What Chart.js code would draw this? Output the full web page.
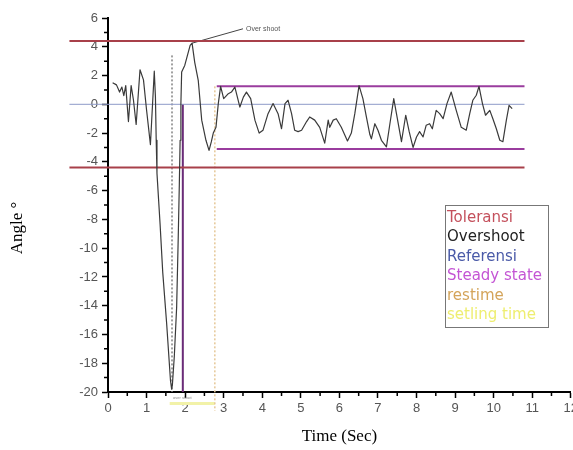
<!DOCTYPE html>
<html>
<head>
<meta charset="utf-8">
<script src="https://cdn.jsdelivr.net/npm/chart.js@4/dist/chart.umd.min.js"></script>
<style>
  html, body { margin: 0; padding: 0; overflow: hidden; background: #fff; }
  #wrap { width: 581px; height: 450px; }
</style>
</head>
<body>
<div id="wrap"><canvas id="myChart"></canvas></div>
<script>
// response signal (time in sec, angle in degrees)
const timeSec = [0.12, 0.22, 0.3, 0.36, 0.41, 0.46, 0.53, 0.6, 0.66, 0.73, 0.83, 0.92, 1.0, 1.1, 1.2,
  1.23, 1.25, 1.27, 1.35, 1.42, 1.52, 1.62, 1.65, 1.67, 1.72, 1.78, 1.82, 1.85, 1.87, 1.89, 1.91,
  1.99, 2.06, 2.13, 2.18, 2.25, 2.34, 2.43, 2.54, 2.62, 2.68, 2.73, 2.8, 2.86, 2.92, 3.0, 3.12,
  3.2, 3.29, 3.42, 3.51, 3.59, 3.7, 3.81, 3.92, 4.02, 4.15, 4.28, 4.41, 4.5, 4.59, 4.67, 4.76,
  4.84, 4.93, 5.02, 5.15, 5.23, 5.36, 5.49, 5.62, 5.71, 5.75, 5.84, 5.92, 6.05, 6.21, 6.31, 6.4,
  6.51, 6.61, 6.7, 6.79, 6.83, 6.92, 7.0, 7.09, 7.22, 7.31, 7.41, 7.48, 7.61, 7.72, 7.81, 7.91,
  8.0, 8.08, 8.17, 8.25, 8.34, 8.41, 8.51, 8.6, 8.69, 8.79, 8.9, 9.03, 9.16, 9.29, 9.38, 9.46,
  9.55, 9.62, 9.71, 9.79, 9.9, 9.98, 10.07, 10.16, 10.24, 10.33, 10.4, 10.48]
const angleDeg = [1.5, 1.35, 0.85, 1.2, 0.6, 1.3, -1.2, 1.3, 0.3, -1.4, 2.4, 1.7, -0.4, -2.8, 2.3,
  0.5, -2.5, -4.8, -8.3, -11.7, -15.2, -19.2, -19.8, -19.5, -17.5, -14.1, -9.4, -5.5, -2.5, 0, 2.25,
  2.7, 3.4, 4.1, 4.25, 2.9, 1.67, -1.1, -2.5, -3.2, -2.6, -2.0, -1.6, 0.05, 1.25, 0.4, 0.74,
  0.85, 1.2, -0.19, 0.5, 0.85, 0.4, -1.1, -2.0, -1.8, -0.65, 0.05, -0.65, -1.7, 0.05, 0.28, -0.65,
  -1.8, -1.9, -1.8, -1.2, -0.88, -1.1, -1.6, -2.7, -1.1, -1.6, -1.1, -1.0, -1.6, -2.55, -2.0, -0.65,
  1.3, 0.4, -0.88, -2.1, -2.4, -1.35, -1.8, -2.5, -2.96, -1.35, 0.4, -0.65, -2.6, -0.76, -1.9, -3.0,
  -2.27, -1.9, -2.27, -1.46, -1.35, -1.7, -0.42, -0.65, -1.0, 0.05, 0.85, -0.42, -1.6, -1.8, -0.65, 0.28,
  0.63, 1.25, 0.05, -0.76, -0.42, -1.0, -1.7, -2.5, -2.6, -1.1, -0.07, -0.3]

// reference levels
const toleransi = [4.4, -4.4]
const steadyState = [1.25, -3.1]
const referensi = 0
const lineSpan = [-1, 10.8]        // time range of the horizontal lines
const steadyStart = 2.82
const overshootPeak = [2.18, 4.25]
const overshootLabel = [3.5, 5.25]
const dotTime = 1.66
const peakTime = 1.94
const riseTime = 2.77
const settleSpan = [1.6, 2.77]

const legendItems = ['Toleransi', 'Overshoot', 'Referensi', 'Steady state', 'restime', 'setling time']
const legendColors = ['#c4505c', '#222222', '#4a5aa8', '#c455d4', '#d4a45a', '#eeee70']

const hline = (v, from, to) => [{ x: from, y: v }, { x: to, y: v }]
const vline = (t, from, to) => [{ x: t, y: from }, { x: t, y: to }]

const base = { showLine: true, pointRadius: 0, fill: false, clip: false, tension: 0 }

const datasets = [
  Object.assign({}, base, {
    data: timeSec.map((t, i) => ({ x: t, y: angleDeg[i] })),
    borderColor: '#3a3a3a', borderWidth: 1.2, clip: true, borderJoinStyle: 'round'
  }),
  Object.assign({}, base, { data: hline(toleransi[0], lineSpan[0], lineSpan[1]), borderColor: '#a8404a', borderWidth: 2 }),
  Object.assign({}, base, { data: hline(toleransi[1], lineSpan[0], lineSpan[1]), borderColor: '#a8404a', borderWidth: 2 }),
  Object.assign({}, base, { data: hline(steadyState[0], steadyStart, lineSpan[1]), borderColor: '#9a3c9e', borderWidth: 2 }),
  Object.assign({}, base, { data: hline(steadyState[1], steadyStart, lineSpan[1]), borderColor: '#9a3c9e', borderWidth: 2 }),
  Object.assign({}, base, { data: hline(referensi, lineSpan[0], lineSpan[1]), borderColor: '#8e9ac8', borderWidth: 1 }),
  Object.assign({}, base, { data: vline(dotTime, 3.4, -20), borderColor: '#a0a0a0', borderWidth: 2, borderDash: [2, 2] }),
  Object.assign({}, base, { data: vline(peakTime, 0, -20), borderColor: '#6a2c78', borderWidth: 2 }),
  Object.assign({}, base, { data: vline(riseTime, 1.25, -21.3), borderColor: '#e6c898', borderWidth: 1.5, borderDash: [2, 2] }),
  Object.assign({}, base, { data: hline(-20.8, settleSpan[0], settleSpan[1]), borderColor: '#f2f2a8', borderWidth: 3 }),
  Object.assign({}, base, { data: [{ x: overshootPeak[0], y: overshootPeak[1] }, { x: overshootLabel[0], y: overshootLabel[1] }], borderColor: '#444', borderWidth: 1 })
]

const extras = {
  id: 'extras',
  afterDraw(chart) {
    const { ctx, scales: { x, y }, chartArea: a } = chart
    ctx.save()
    // minor ticks
    ctx.strokeStyle = '#000'
    ctx.lineWidth = 1.5
    ctx.beginPath()
    for (let v = -19; v < 6; v += 2) {
      const py = y.getPixelForValue(v)
      ctx.moveTo(a.left - 4, py); ctx.lineTo(a.left, py)
    }
    for (let t = 0.5; t < 12; t += 1) {
      const px = x.getPixelForValue(t)
      ctx.moveTo(px, a.bottom); ctx.lineTo(px, a.bottom + 4)
    }
    ctx.stroke()

    // annotation texts
    ctx.fillStyle = '#555'
    ctx.font = '7px "Liberation Sans", Arial'
    ctx.textBaseline = 'middle'
    ctx.fillText('Over shoot', x.getPixelForValue(overshootLabel[0]) + 3, y.getPixelForValue(overshootLabel[1]))
    ctx.font = '4px "Liberation Sans", Arial'
    ctx.fillStyle = '#888'
    ctx.fillText('over shoot', x.getPixelForValue(dotTime) + 1, a.bottom + 6)

    // axis titles
    ctx.fillStyle = '#000'
    ctx.font = '17px "Liberation Serif", "Times New Roman", serif'
    ctx.textAlign = 'center'
    ctx.fillText('Time (Sec)', (a.left + a.right) / 2, 437)
    ctx.translate(18, 228)
    ctx.rotate(-Math.PI / 2)
    ctx.fillText('Angle °', 0, 0)
    ctx.restore()

    // legend box
    ctx.save()
    const lx = a.left + 337, ly = 205
    ctx.strokeStyle = '#777'
    ctx.lineWidth = 1
    ctx.strokeRect(lx + 0.5, ly + 0.5, 103, 122)
    ctx.font = '15px "DejaVu Sans", "Liberation Sans", Arial'
    ctx.textBaseline = 'middle'
    legendItems.forEach((s, i) => {
      ctx.fillStyle = legendColors[i]
      ctx.fillText(s, lx + 2, ly + 13 + i * 19.5)
    })
    ctx.restore()
  }
}

const ctx = document.getElementById('myChart')
const myChart = new Chart(ctx, {
  type: 'scatter',
  data: { datasets },
  plugins: [extras],
  options: {
    responsive: true,
    maintainAspectRatio: false,
    animation: false,
    events: [],
    layout: { padding: { top: 18, right: 10, left: 0, bottom: 0 } },
    plugins: { legend: { display: false }, tooltip: { enabled: false } },
    scales: {
      x: {
        type: 'linear', min: 0, max: 12,
        afterFit: (s) => { s.height = 58 },
        ticks: { stepSize: 1, padding: 3, color: '#555', font: { family: '"Liberation Sans", Arial', size: 13 } },
        grid: { drawOnChartArea: false, tickLength: 6, tickColor: '#000', tickWidth: 1.5 },
        border: { color: '#000', width: 2 }
      },
      y: {
        type: 'linear', min: -20, max: 6,
        afterFit: (s) => { s.width = 108 },
        ticks: { stepSize: 2, padding: 4, color: '#555', font: { family: '"Liberation Sans", Arial', size: 13 } },
        grid: { drawOnChartArea: false, tickLength: 6, tickColor: '#000', tickWidth: 1.5 },
        border: { color: '#000', width: 2 }
      }
    }
  }
})
</script>
</body>
</html>
